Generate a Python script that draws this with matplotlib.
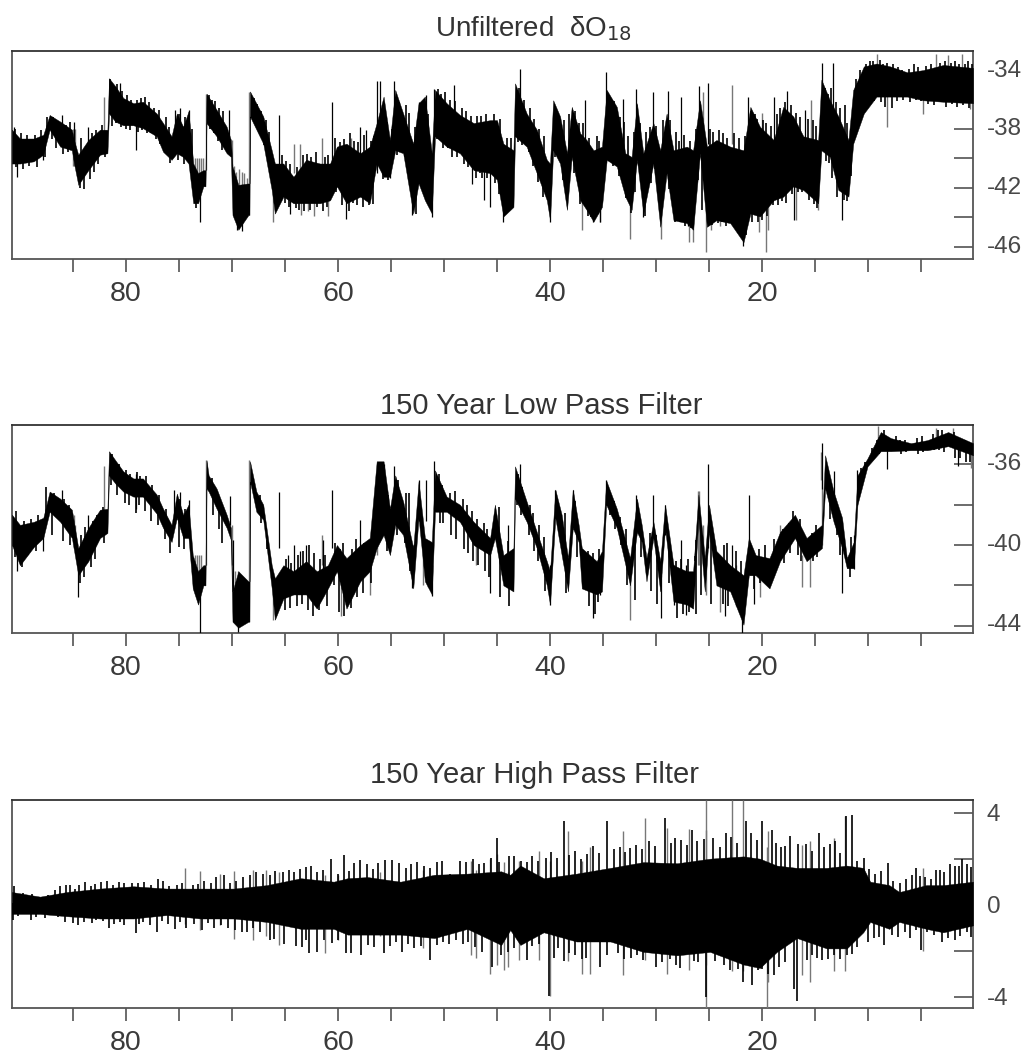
import matplotlib
matplotlib.use("Agg")
import matplotlib.pyplot as plt
from matplotlib.transforms import ScaledTranslation
import numpy as np

plt.rcParams["font.family"] = ["Liberation Sans", "DejaVu Sans"]

# age in kyr BP, upper and lower edge of the dense trace
age1 = [90.75, 90.0, 88.7, 87.8, 87.2, 86.2, 85.1, 84.9, 84.5, 83.55, 82.45, 81.75, 81.6, 81.0, 80.25, 79.3, 78.4, 77.1, 76.5, 75.7, 75.2, 74.6, 74.1, 73.65, 73.2, 72.7, 72.5, 72.4, 71.45, 70.5, 70.1, 69.95, 69.4, 68.45, 68.35, 68.3, 67.05, 66.25, 65.95, 65.15, 64.2, 63.0, 61.7, 60.75, 60.1, 59.2, 57.9, 57.0, 56.35, 55.7, 55.1, 54.6, 53.85, 52.9, 52.4, 51.8, 51.15, 50.85, 49.75, 48.5, 47.2, 45.65, 45.0, 44.4, 43.45, 43.3, 42.2, 41.25, 40.3, 40.0, 39.7, 39.05, 38.4, 37.95, 37.15, 36.55, 35.9, 35.1, 34.65, 33.7, 32.9, 32.3, 31.8, 31.2, 30.25, 29.6, 29.0, 28.35, 27.1, 26.5, 25.85, 25.2, 24.3, 23.0, 21.75, 21.1, 20.2, 18.9, 18.0, 17.05, 16.1, 14.7, 14.4, 13.6, 12.8, 11.85, 11.4, 10.4, 9.2, 7.9, 6.3, 4.8, 2.9, 0.1]
hi1 = [-38.05, -38.65, -38.65, -38.4, -37.05, -37.5, -38.05, -38.75, -39.75, -38.75, -38.05, -38.05, -34.55, -35.1, -35.9, -36.25, -36.15, -36.95, -37.6, -38.5, -36.95, -37.85, -36.8, -40.35, -41.0, -40.8, -40.8, -35.6, -36.7, -37.85, -38.75, -40.55, -41.8, -41.7, -41.7, -35.45, -37.15, -39.45, -40.35, -40.35, -41.25, -40.1, -40.35, -40.35, -39.2, -39.0, -39.65, -39.2, -37.6, -35.8, -38.75, -35.35, -36.95, -39.0, -36.25, -35.8, -39.65, -35.35, -36.25, -37.05, -37.6, -37.4, -37.4, -39.0, -39.45, -34.9, -36.95, -38.05, -40.1, -40.35, -36.05, -37.15, -39.65, -36.5, -38.3, -38.75, -39.45, -39.2, -35.35, -36.5, -39.65, -39.9, -36.25, -39.65, -37.6, -39.45, -36.95, -39.45, -39.2, -39.45, -36.05, -39.2, -38.75, -39.2, -39.45, -36.5, -37.85, -38.75, -36.5, -37.15, -38.5, -38.75, -34.65, -36.05, -37.15, -38.75, -35.35, -33.75, -33.55, -33.75, -34.15, -34.0, -33.65, -33.85]
lo1 = [-40.35, -40.35, -40.2, -39.75, -38.05, -39.2, -39.45, -40.35, -41.8, -40.8, -39.75, -39.65, -36.95, -37.5, -37.75, -37.75, -37.95, -38.5, -39.55, -40.1, -39.65, -39.9, -40.35, -43.05, -43.05, -41.9, -41.9, -37.6, -38.5, -39.65, -39.9, -43.85, -44.85, -43.85, -43.85, -37.15, -39.0, -42.15, -43.75, -42.6, -43.05, -43.05, -43.05, -42.85, -41.9, -43.05, -42.6, -43.05, -40.35, -41.25, -41.25, -39.45, -39.65, -43.75, -41.7, -42.85, -43.75, -38.5, -39.2, -39.65, -40.8, -41.0, -41.45, -43.95, -43.3, -38.5, -39.2, -41.0, -42.85, -44.2, -39.45, -40.35, -43.5, -39.9, -42.85, -43.5, -44.3, -43.3, -40.1, -40.55, -42.6, -43.5, -40.1, -43.75, -40.35, -44.65, -41.0, -44.2, -44.4, -44.85, -39.65, -44.65, -44.2, -44.4, -45.7, -43.75, -43.95, -42.85, -42.6, -41.9, -42.15, -43.05, -39.45, -39.9, -42.15, -42.6, -39.0, -36.95, -35.8, -35.8, -35.8, -36.05, -36.15, -36.25]

# isolated excursions, black and grey
spike1_age = [90.25, 90.6, 87.8, 86.0, 84.9, 83.55, 80.6, 79.05, 75.4, 74.9, 74.1, 73.0, 70.25, 69.1, 69.55, 65.6, 64.5, 60.55, 59.25, 57.9, 57.4, 56.35, 56.0, 55.1, 54.7, 53.05, 52.4, 51.7, 51.15, 50.95, 49.1, 47.4, 46.2, 45.7, 44.4, 42.85, 40.0, 36.7, 35.9, 35.25, 34.7, 33.1, 31.9, 31.2, 30.3, 28.9, 27.6, 27.0, 25.9, 25.05, 21.8, 21.3, 18.9, 17.6, 17.0, 15.95, 14.3, 12.5, 13.3]
spike1_hi = [-39.5, -37.85, -39.0, -37.05, -37.5, -37.85, -34.9, -37.0, -36.7, -36.6, -36.7, -41.5, -36.7, -42.0, -42.0, -37.05, -41.5, -36.15, -40.0, -37.85, -38.1, -34.75, -34.75, -39.5, -34.75, -40.0, -36.15, -35.7, -40.0, -35.25, -35.0, -38.5, -39.0, -39.0, -40.0, -33.9, -41.0, -36.05, -41.0, -41.0, -34.1, -35.95, -35.25, -41.0, -35.5, -35.4, -35.8, -41.0, -35.1, -34.9, -41.0, -35.85, -35.85, -35.4, -40.5, -36.7, -33.5, -40.0, -33.5]
spike1_lo = [-41.25, -39.5, -40.1, -38.5, -39.5, -39.5, -36.5, -39.45, -38.0, -38.0, -38.5, -44.3, -38.5, -44.95, -44.85, -40.6, -43.75, -40.3, -44.1, -40.0, -40.2, -41.0, -40.0, -41.35, -39.0, -43.85, -41.7, -42.85, -44.0, -38.5, -38.0, -41.75, -42.8, -43.3, -44.3, -38.0, -44.3, -39.5, -44.3, -44.3, -38.0, -39.0, -38.5, -44.0, -39.0, -39.0, -39.5, -44.6, -39.5, -39.0, -45.95, -39.0, -39.0, -39.0, -44.2, -39.0, -37.5, -44.2, -37.5]
gray1_age = [85.0, 84.9, 84.8, 82.1, 73.5, 73.3, 73.1, 72.9, 72.7, 72.45, 70.0, 69.85, 69.6, 69.35, 69.1, 68.85, 68.6, 68.4, 66.15, 64.15, 63.6, 63.45, 62.8, 62.3, 61.55, 60.9, 58.8, 37.0, 35.3, 32.5, 29.55, 26.9, 26.5, 25.6, 25.3, 24.8, 24.0, 22.85, 20.3, 20.05, 19.6, 19.4, 16.8, 15.4, 14.75, 9.2, 8.25, 4.8, 3.6, 2.5, 1.15, 0.4]
gray1_hi = [-38.0, -38.0, -38.0, -35.85, -40.0, -40.0, -40.0, -40.0, -40.0, -35.6, -38.75, -40.5, -40.9, -40.7, -40.9, -41.0, -41.3, -35.5, -42.0, -39.0, -39.0, -41.0, -41.0, -41.0, -38.6, -41.0, -38.6, -40.0, -41.0, -41.0, -41.0, -41.0, -41.0, -35.5, -40.0, -41.0, -41.0, -35.0, -41.0, -36.9, -41.0, -41.0, -41.0, -36.0, -41.0, -32.9, -35.5, -35.5, -32.9, -33.0, -32.9, -35.5]
gray1_lo = [-40.5, -40.5, -40.5, -38.5, -41.5, -41.5, -41.5, -41.5, -41.5, -40.8, -40.5, -41.5, -42.0, -42.0, -42.0, -42.0, -42.0, -41.7, -44.3, -41.0, -41.0, -43.85, -43.6, -43.9, -41.0, -43.9, -41.0, -44.85, -44.3, -45.5, -45.45, -45.7, -45.7, -39.0, -46.35, -44.9, -44.6, -39.0, -45.0, -39.0, -46.35, -44.85, -44.2, -39.0, -43.5, -35.5, -37.85, -37.0, -35.5, -35.5, -35.5, -36.65]

# short excursions along the edges of the trace
up1_age = [90.5, 89.9, 89.3, 88.6, 88.0, 87.45, 86.9, 86.5, 85.7, 85.3, 84.2, 83.2, 82.8, 82.3, 81.5, 81.2, 80.8, 80.4, 79.9, 79.5, 79.0, 78.6, 78.2, 77.8, 77.4, 76.9, 76.2, 75.9, 75.0, 74.4, 73.8, 72.2, 71.9, 71.6, 71.2, 70.8, 67.9, 67.6, 67.3, 66.8, 66.5, 65.3, 64.9, 64.5, 63.9, 63.3, 62.9, 62.5, 62.1, 61.2, 60.9, 60.3, 59.8, 59.4, 58.9, 58.5, 58.1, 57.5, 56.9, 56.6, 55.4, 54.9, 54.2, 53.6, 53.3, 52.7, 51.5, 50.6, 50.3, 49.9, 49.4, 49.0, 48.3, 47.9, 47.5, 46.9, 46.5, 46.0, 45.3, 44.7, 44.1, 43.7, 42.9, 42.5, 41.9, 41.5, 41.0, 40.6, 39.4, 38.7, 38.2, 37.6, 37.3, 36.9, 36.3, 35.6, 35.4, 34.3, 34.0, 33.4, 33.0, 32.6, 32.1, 31.5, 30.9, 30.6, 30.0, 29.3, 28.7, 28.1, 27.8, 27.4, 26.8, 26.2, 25.6, 24.9, 24.6, 24.1, 23.7, 23.3, 22.6, 22.2, 21.6, 21.0, 20.7, 20.5, 19.9, 19.6, 19.2, 18.6, 18.3, 17.8, 17.3, 16.8, 16.4, 15.7, 15.2, 14.9, 14.1, 13.8, 13.5, 13.0, 12.6, 12.2, 11.95, 11.1, 10.8, 10.2, 9.8, 9.5, 8.9, 8.6, 8.2, 7.6, 7.2, 6.8, 6.1, 5.7, 5.3, 4.5, 4.1, 3.2, 2.7, 2.2, 1.8, 1.4, 0.9, 0.6, 0.2]
up1_tip = [-38.0, -38.3, -38.4, -38.4, -38.1, -37.2, -37.2, -37.5, -37.7, -37.5, -38.6, -38.3, -38.1, -37.7, -34.6, -35.0, -34.95, -35.4, -35.7, -36.0, -36.0, -35.9, -35.8, -36.2, -36.6, -36.7, -37.2, -37.9, -37.0, -37.2, -38.0, -35.7, -36.0, -36.1, -36.6, -36.8, -35.9, -36.3, -36.8, -37.4, -38.2, -39.8, -40.2, -40.4, -40.6, -39.8, -39.7, -39.9, -39.6, -39.9, -39.8, -38.6, -38.9, -38.7, -38.3, -38.8, -38.9, -38.4, -38.8, -38.5, -37.5, -38.0, -36.2, -36.4, -36.9, -37.9, -37.0, -35.3, -35.6, -35.5, -36.0, -36.1, -36.6, -36.8, -37.1, -37.1, -37.1, -37.0, -37.0, -37.3, -38.6, -38.6, -35.2, -36.0, -36.6, -37.3, -38.0, -38.5, -36.8, -37.4, -37.0, -36.8, -37.6, -37.6, -38.6, -38.5, -38.8, -35.9, -36.1, -37.2, -37.5, -38.5, -38.2, -37.6, -38.2, -37.9, -37.8, -37.4, -37.4, -38.2, -38.8, -38.4, -38.8, -38.0, -37.6, -38.0, -38.2, -38.1, -38.3, -38.6, -38.3, -38.6, -38.5, -36.8, -37.0, -37.3, -37.4, -37.6, -37.8, -37.0, -36.6, -36.2, -36.4, -36.9, -37.2, -37.3, -37.4, -37.8, -35.2, -35.6, -35.2, -36.2, -36.6, -36.4, -37.6, -34.6, -34.0, -33.6, -33.4, -33.4, -33.3, -33.6, -33.5, -33.6, -33.8, -34.0, -33.9, -33.6, -33.8, -33.7, -33.6, -33.5, -33.4, -33.5, -33.4, -33.6, -33.6, -33.4, -33.6]
dn1_age = [90.4, 89.7, 89.1, 88.4, 87.6, 87.0, 86.6, 85.9, 85.5, 84.3, 84.0, 83.4, 83.0, 82.6, 82.0, 81.3, 80.9, 80.5, 80.0, 79.6, 78.9, 78.5, 78.0, 77.6, 77.2, 76.8, 76.3, 75.8, 75.05, 74.5, 73.9, 73.4, 72.1, 71.7, 71.3, 70.9, 67.8, 67.4, 67.0, 66.6, 65.4, 65.0, 64.6, 64.0, 63.7, 63.2, 62.6, 62.0, 61.4, 61.0, 60.2, 59.6, 59.0, 58.6, 58.2, 57.6, 57.1, 56.7, 55.8, 55.3, 54.4, 53.7, 53.2, 52.6, 51.4, 50.7, 50.1, 49.6, 49.2, 48.8, 48.1, 47.7, 47.0, 46.6, 46.4, 45.9, 45.2, 44.8, 44.2, 43.8, 43.0, 42.6, 42.0, 41.6, 41.1, 40.7, 39.5, 38.8, 38.1, 37.7, 37.2, 36.4, 36.1, 35.5, 34.4, 34.1, 33.5, 32.8, 32.4, 32.0, 31.4, 31.0, 30.5, 30.1, 29.4, 28.8, 28.2, 27.7, 27.3, 26.7, 26.0, 25.7, 24.7, 24.2, 23.8, 23.4, 22.7, 22.3, 21.5, 20.9, 20.4, 20.0, 19.5, 19.0, 18.5, 18.1, 17.7, 17.2, 16.6, 16.2, 15.6, 15.1, 14.8, 14.0, 13.7, 13.4, 12.9, 12.3, 12.0, 11.6, 11.0, 10.6, 10.0, 9.4, 8.8, 8.4, 7.7, 7.3, 6.7, 6.0, 5.5, 5.0, 4.3, 3.8, 3.3, 2.6, 2.1, 1.6, 1.0, 0.5]
dn1_tip = [-40.6, -40.7, -40.5, -40.6, -39.9, -38.7, -39.3, -39.7, -39.6, -42.0, -42.1, -41.4, -40.9, -40.4, -39.9, -37.8, -37.6, -37.9, -38.0, -38.1, -38.2, -38.1, -38.3, -38.3, -38.7, -39.0, -39.6, -40.3, -40.1, -40.4, -41.0, -43.4, -38.0, -38.3, -38.8, -39.4, -37.6, -38.2, -39.1, -40.0, -42.9, -43.0, -43.3, -43.4, -43.5, -43.6, -43.5, -43.3, -43.6, -43.3, -42.3, -43.2, -43.6, -43.0, -43.2, -43.3, -43.2, -43.1, -41.4, -41.5, -39.8, -39.9, -41.3, -43.8, -41.6, -38.7, -39.3, -39.3, -39.9, -39.9, -40.4, -40.6, -41.3, -41.0, -41.3, -41.3, -41.7, -42.4, -43.0, -43.5, -38.9, -39.1, -39.6, -40.5, -41.6, -42.6, -39.9, -41.5, -40.7, -41.0, -43.1, -43.9, -44.0, -43.8, -40.2, -40.5, -41.2, -42.7, -43.7, -42.3, -41.5, -43.9, -41.7, -40.7, -42.2, -42.1, -44.3, -44.3, -44.6, -44.7, -41.5, -43.5, -44.5, -44.4, -44.3, -44.6, -44.5, -45.1, -45.2, -44.3, -44.3, -44.2, -43.9, -43.2, -43.2, -42.9, -43.0, -42.4, -42.3, -42.3, -42.8, -43.1, -43.4, -40.2, -40.3, -41.3, -42.6, -42.8, -42.9, -41.2, -37.8, -37.1, -36.2, -36.1, -36.2, -36.5, -36.6, -36.1, -36.0, -36.2, -36.0, -36.1, -36.3, -36.4, -36.1, -36.5, -36.3, -36.5, -36.4, -36.6]

age2 = [90.75, 90.0, 88.7, 87.8, 87.2, 86.2, 85.1, 84.5, 83.55, 82.45, 81.75, 81.6, 81.0, 80.25, 79.3, 78.4, 77.1, 76.5, 75.7, 75.2, 74.6, 74.1, 73.7, 73.2, 72.7, 72.5, 72.4, 72.2, 71.45, 70.5, 70.1, 69.95, 69.4, 68.45, 68.35, 68.3, 67.7, 67.05, 66.25, 65.95, 65.15, 64.2, 63.0, 62.0, 60.95, 60.1, 59.2, 57.9, 57.0, 56.35, 55.7, 55.1, 54.6, 53.85, 52.9, 52.4, 51.8, 51.15, 50.85, 49.75, 48.5, 47.2, 45.65, 45.2, 44.4, 43.45, 43.3, 42.2, 41.25, 40.3, 40.0, 39.5, 38.9, 38.3, 37.85, 37.3, 37.0, 35.6, 35.1, 34.7, 33.7, 33.1, 32.45, 31.8, 31.35, 30.9, 30.25, 29.6, 29.15, 28.35, 27.1, 26.5, 26.0, 25.4, 25.0, 24.3, 23.0, 21.75, 21.25, 20.6, 19.3, 18.3, 16.9, 15.8, 14.35, 14.05, 13.25, 12.45, 12.0, 11.35, 11.0, 10.05, 8.8, 7.85, 5.95, 4.4, 2.45, 0.1]
hi2 = [-38.5, -39.0, -38.85, -38.65, -37.35, -37.7, -38.25, -40.15, -39.15, -38.25, -38.2, -35.35, -35.8, -36.35, -36.7, -36.7, -37.5, -38.2, -39.0, -37.45, -38.5, -38.0, -40.5, -41.3, -41.0, -41.0, -35.8, -36.55, -37.2, -38.5, -39.15, -42.3, -41.3, -41.8, -41.8, -35.85, -37.35, -38.0, -41.0, -41.65, -41.0, -41.3, -40.8, -41.3, -41.0, -40.0, -40.65, -40.0, -39.65, -35.85, -35.85, -38.2, -36.55, -37.85, -40.15, -36.85, -39.65, -39.85, -36.3, -37.6, -38.0, -38.85, -39.65, -38.0, -40.5, -40.15, -36.1, -37.85, -39.35, -40.8, -41.3, -37.25, -38.5, -40.65, -37.25, -39.0, -40.15, -40.8, -40.3, -36.8, -38.2, -39.35, -40.65, -37.7, -39.0, -40.65, -38.85, -40.8, -38.0, -41.0, -41.3, -41.3, -37.5, -40.65, -38.0, -40.3, -41.0, -41.5, -39.65, -40.5, -40.65, -39.35, -38.5, -39.65, -39.0, -35.55, -37.35, -38.65, -40.65, -39.85, -36.55, -35.7, -34.4, -34.7, -34.95, -34.8, -34.4, -34.95]
lo2 = [-40.0, -41.0, -40.1, -39.65, -38.35, -38.85, -39.65, -41.5, -40.8, -39.65, -39.4, -36.55, -36.95, -37.35, -37.6, -37.6, -38.45, -39.15, -39.85, -38.65, -39.65, -39.65, -42.15, -42.95, -42.0, -42.0, -37.2, -37.35, -38.2, -39.15, -39.75, -43.8, -44.1, -43.8, -43.8, -36.85, -38.35, -38.75, -42.15, -43.7, -42.65, -42.45, -42.45, -43.15, -42.15, -41.3, -43.15, -41.8, -41.3, -40.15, -39.5, -40.5, -39.0, -39.5, -42.15, -38.65, -41.8, -42.45, -38.35, -38.35, -38.85, -40.0, -40.5, -39.65, -42.0, -42.3, -37.7, -38.85, -40.15, -42.0, -42.95, -38.65, -40.5, -42.3, -39.15, -39.85, -42.15, -42.45, -42.3, -38.0, -39.15, -40.5, -42.0, -39.35, -39.85, -41.8, -39.65, -42.3, -39.15, -42.8, -42.95, -43.15, -38.65, -42.3, -39.35, -42.0, -42.3, -43.95, -41.5, -41.5, -42.15, -40.8, -39.65, -40.8, -40.15, -37.2, -38.85, -40.15, -41.15, -41.15, -38.0, -36.1, -35.35, -35.35, -35.3, -35.3, -35.1, -35.55]

spike2_age = [90.25, 87.8, 86.0, 84.5, 83.55, 79.05, 75.5, 74.9, 74.1, 73.0, 70.2, 69.95, 69.4, 65.6, 64.7, 64.15, 63.6, 63.0, 61.4, 60.55, 57.9, 55.65, 54.7, 53.05, 52.4, 51.7, 51.15, 50.95, 45.7, 44.0, 42.85, 40.0, 39.5, 37.85, 36.7, 35.9, 35.25, 34.7, 31.9, 30.3, 29.55, 29.15, 28.35, 27.6, 27.2, 25.05, 23.5, 22.85, 21.85, 21.25, 20.8, 14.3, 13.25, 12.5, 11.35, 11.0, 8.2, 1.55]
spike2_hi = [-39.5, -39.0, -37.25, -41.0, -38.5, -36.5, -37.25, -37.35, -37.75, -42.0, -37.55, -39.75, -42.0, -37.35, -40.5, -40.0, -40.3, -40.0, -39.75, -37.25, -38.75, -36.0, -36.1, -40.0, -36.8, -36.8, -41.0, -35.85, -40.0, -39.0, -36.0, -41.0, -37.25, -37.25, -41.0, -41.0, -41.0, -36.8, -37.5, -37.5, -41.5, -38.0, -41.0, -39.75, -41.0, -36.0, -41.0, -40.0, -42.0, -37.5, -41.0, -34.95, -36.35, -40.0, -39.5, -36.3, -35.0, -35.0]
spike2_lo = [-41.3, -40.3, -38.5, -42.6, -40.0, -38.2, -38.8, -38.8, -39.65, -44.36, -39.0, -42.3, -44.3, -40.15, -42.5, -42.0, -42.0, -42.0, -42.5, -40.15, -41.0, -39.5, -38.5, -42.15, -38.8, -38.8, -42.55, -38.2, -42.4, -41.0, -38.0, -42.95, -38.65, -38.65, -42.15, -43.6, -42.5, -38.0, -39.5, -39.5, -43.6, -39.5, -42.95, -41.5, -43.45, -40.15, -43.5, -41.5, -44.36, -41.0, -42.9, -37.2, -38.5, -42.4, -41.2, -38.0, -36.25, -36.1]
gray2_age = [84.9, 84.8, 82.1, 73.5, 73.3, 73.1, 72.9, 72.45, 70.0, 69.7, 69.4, 69.1, 68.8, 68.4, 66.15, 61.55, 59.7, 57.0, 56.35, 56.0, 55.3, 52.9, 52.0, 51.5, 47.0, 32.5, 26.05, 25.9, 25.6, 25.3, 24.0, 22.5, 20.2, 18.3, 16.2, 15.5, 14.4, 14.35, 9.1, 3.6, 2.0, 0.3]
gray2_hi = [-38.5, -39.0, -36.1, -40.5, -40.5, -40.5, -40.5, -35.8, -39.0, -41.3, -41.3, -41.6, -41.8, -35.8, -42.0, -39.5, -41.0, -41.0, -38.5, -36.0, -38.5, -40.0, -39.5, -41.0, -39.5, -41.0, -37.3, -37.3, -39.0, -40.5, -41.0, -41.0, -41.0, -39.0, -40.5, -40.5, -35.4, -36.8, -34.1, -34.2, -34.2, -35.3]
gray2_lo = [-40.15, -40.15, -39.0, -41.5, -41.5, -41.5, -41.5, -41.0, -41.0, -42.0, -42.0, -42.0, -42.0, -41.8, -43.7, -41.0, -43.5, -42.5, -40.5, -39.0, -40.0, -41.5, -42.0, -42.1, -41.0, -43.7, -41.0, -41.0, -40.5, -42.5, -43.3, -43.0, -42.6, -40.5, -42.1, -42.1, -36.8, -40.0, -35.0, -35.0, -35.0, -36.2]

up2_age = [90.4, 89.6, 89.0, 88.3, 87.5, 86.8, 85.8, 85.4, 84.2, 83.9, 83.1, 82.7, 82.2, 81.3, 80.7, 80.0, 79.6, 79.0, 78.7, 78.1, 77.5, 76.9, 76.2, 75.9, 74.9, 74.4, 71.9, 71.1, 70.8, 67.4, 66.6, 64.9, 64.4, 63.8, 63.3, 62.7, 62.3, 61.7, 61.2, 60.3, 59.8, 59.5, 58.7, 58.3, 57.5, 56.8, 55.3, 54.3, 53.6, 53.3, 50.5, 50.2, 49.4, 49.0, 48.2, 47.8, 47.4, 46.9, 46.2, 45.9, 44.8, 44.0, 43.0, 42.6, 41.9, 41.6, 41.0, 40.6, 39.2, 38.6, 37.6, 36.4, 35.9, 35.4, 34.4, 34.0, 33.4, 32.8, 32.1, 31.5, 30.6, 30.0, 28.9, 28.1, 27.6, 27.0, 26.3, 25.7, 24.7, 23.6, 23.3, 22.5, 22.0, 20.9, 20.3, 19.7, 18.9, 18.0, 17.5, 17.1, 16.4, 15.3, 14.9, 13.7, 13.0, 12.7, 11.6, 10.7, 10.3, 9.6, 9.2, 8.5, 7.4, 7.0, 6.5, 5.4, 4.9, 3.9, 3.4, 3.0, 1.9, 1.4, 0.9, 0.5]
up2_tip = [-38.3, -38.8, -38.7, -38.5, -37.1, -37.4, -37.7, -38.0, -39.5, -39.1, -38.8, -38.5, -38.1, -35.5, -36.0, -36.3, -36.5, -36.4, -36.6, -36.6, -37.0, -37.5, -38.2, -38.9, -37.7, -38.2, -36.7, -37.7, -38.2, -37.5, -40.0, -40.7, -40.9, -40.5, -40.3, -40.0, -40.4, -40.7, -40.5, -39.9, -40.2, -39.9, -40.2, -39.7, -39.9, -39.6, -37.5, -36.8, -37.4, -37.4, -36.5, -37.0, -37.4, -37.3, -37.7, -38.0, -38.3, -38.7, -38.9, -39.2, -38.1, -39.8, -36.5, -37.1, -38.0, -38.4, -39.0, -39.6, -37.9, -38.4, -37.8, -40.3, -40.4, -40.2, -37.4, -37.8, -38.6, -39.2, -40.4, -38.8, -39.4, -39.5, -39.3, -40.8, -40.7, -40.7, -40.8, -39.9, -39.7, -40.0, -39.9, -40.3, -40.8, -40.3, -40.2, -40.0, -39.7, -39.2, -38.9, -38.3, -38.7, -39.4, -39.0, -37.4, -38.3, -38.7, -39.6, -36.2, -35.9, -35.2, -34.8, -34.3, -34.6, -34.8, -34.8, -34.7, -34.6, -34.5, -34.3, -34.3, -34.4, -34.7, -34.8, -35.0]
dn2_age = [90.5, 89.8, 89.2, 88.5, 87.6, 87.0, 85.9, 85.3, 84.3, 84.0, 83.3, 82.9, 82.1, 81.4, 80.8, 80.1, 79.7, 79.1, 78.8, 78.2, 77.6, 77.0, 76.3, 75.8, 75.0, 74.5, 71.8, 71.2, 70.9, 67.3, 66.7, 65.0, 64.5, 63.9, 63.4, 62.8, 62.4, 61.8, 61.0, 60.4, 59.9, 59.4, 58.8, 58.2, 57.6, 56.9, 55.4, 54.4, 53.7, 53.2, 50.4, 50.1, 49.3, 48.9, 48.1, 47.7, 47.3, 46.8, 46.1, 45.8, 44.7, 43.9, 43.1, 42.7, 42.0, 41.5, 41.1, 40.5, 39.1, 38.5, 37.5, 36.3, 35.8, 35.5, 34.3, 33.9, 33.3, 32.7, 32.0, 31.4, 30.5, 29.9, 28.8, 28.0, 27.5, 26.9, 26.2, 25.8, 24.8, 23.7, 23.2, 22.4, 21.9, 20.8, 20.2, 19.6, 18.8, 17.9, 17.4, 16.6, 16.3, 15.2, 14.8, 13.6, 12.9, 12.6, 11.7, 10.8, 10.4, 9.7, 9.0, 8.4, 7.3, 6.9, 6.4, 5.3, 4.8, 3.8, 3.3, 2.8, 1.8, 1.3, 0.8, 0.4]
dn2_tip = [-40.6, -41.1, -40.5, -40.3, -38.7, -39.5, -39.8, -40.0, -41.9, -41.6, -41.1, -40.7, -39.9, -37.0, -37.5, -37.9, -38.0, -38.4, -38.0, -38.3, -38.8, -39.0, -39.7, -40.4, -40.1, -40.2, -38.5, -39.2, -39.9, -38.9, -40.2, -43.2, -43.1, -43.0, -42.9, -43.2, -43.5, -43.2, -43.0, -42.0, -43.3, -43.5, -43.1, -42.6, -42.4, -41.9, -40.3, -39.5, -39.9, -41.3, -38.9, -38.9, -39.5, -39.7, -40.2, -40.4, -40.8, -41.0, -41.3, -41.6, -42.6, -43.0, -38.0, -38.5, -39.5, -40.3, -40.8, -42.3, -39.6, -42.4, -40.6, -43.0, -43.4, -42.8, -38.5, -39.2, -40.0, -42.0, -42.7, -40.6, -42.3, -42.9, -41.9, -43.6, -43.4, -43.3, -43.4, -42.5, -42.9, -42.9, -43.0, -43.0, -43.3, -42.2, -41.9, -41.9, -41.4, -40.9, -40.4, -40.5, -40.8, -40.8, -40.6, -38.7, -39.5, -40.5, -41.6, -37.2, -36.5, -35.6, -35.5, -35.3, -35.3, -35.5, -35.4, -35.5, -35.4, -35.3, -35.3, -35.4, -35.7, -35.7, -35.9, -35.9]

age3 = [90.75, 88.1, 85.6, 82.45, 79.3, 76.15, 73.0, 69.8, 66.7, 63.5, 60.4, 59.1, 57.2, 54.1, 50.9, 47.8, 44.6, 43.75, 42.8, 40.6, 37.5, 34.3, 31.2, 28.0, 24.9, 21.75, 20.2, 18.6, 16.7, 13.9, 12.0, 10.45, 9.8, 8.0, 7.05, 4.5, 2.9, 0.1]
top3 = [0.55, 0.35, 0.55, 0.7, 0.8, 0.7, 0.7, 0.7, 0.85, 1.15, 1.0, 1.15, 1.2, 1.0, 1.3, 1.35, 1.45, 1.3, 1.7, 1.15, 1.35, 1.6, 1.85, 1.8, 2.0, 2.1, 2.0, 1.7, 1.6, 1.6, 1.7, 1.6, 1.0, 0.85, 0.55, 0.85, 0.85, 1.0]
bot3 = [-0.4, -0.4, -0.5, -0.6, -0.6, -0.45, -0.6, -0.6, -0.75, -1.05, -1.05, -1.3, -1.3, -1.3, -1.45, -1.05, -1.75, -1.1, -1.75, -1.2, -1.6, -1.6, -2.05, -2.2, -2.05, -2.6, -2.75, -2.05, -1.45, -1.9, -1.9, -1.2, -0.75, -1.05, -0.75, -1.05, -1.2, -0.9]

up3_age = [90.55, 85.25, 83.85, 81.8, 79.45, 77.0, 70.75, 64.15, 63.05, 61.95, 60.65, 59.4, 57.95, 54.9, 50.2, 49.4, 48.5, 45.0, 44.8, 43.9, 38.7, 34.65, 34.0, 32.5, 29.2, 27.6, 26.6, 24.0, 22.9, 21.5, 20.0, 19.1, 17.4, 16.6, 15.9, 14.6, 13.1, 12.1, 11.55, 10.35, 8.1, 5.5, 3.55, 2.3, 1.1, 0.3, 89.7, 88.9, 87.4, 86.7, 86.2, 85.7, 84.8, 84.4, 83.3, 82.9, 82.4, 81.2, 80.7, 80.2, 78.9, 78.3, 77.6, 76.5, 75.9, 75.2, 74.7, 73.7, 73.2, 72.6, 72.0, 71.5, 70.2, 69.6, 69.0, 68.3, 67.7, 67.1, 66.4, 65.9, 65.2, 64.6, 63.6, 62.5, 61.4, 60.0, 59.0, 58.5, 57.3, 56.7, 56.2, 55.6, 54.2, 53.6, 53.1, 52.5, 51.9, 51.3, 50.7, 47.9, 47.3, 46.7, 46.2, 45.6, 43.4, 42.7, 42.2, 41.7, 41.1, 40.4, 39.9, 39.3, 38.2, 37.6, 37.1, 36.5, 35.9, 35.4, 33.4, 32.9, 31.9, 31.3, 30.7, 30.1, 28.6, 28.2, 27.1, 26.1, 25.5, 24.6, 23.4, 22.4, 21.0, 20.5, 18.7, 18.2, 17.8, 15.3, 14.2, 13.6, 12.6, 11.0, 10.7, 9.9, 9.3, 8.8, 7.6, 7.0, 6.4, 5.9, 5.1, 4.6, 4.1, 3.2, 2.8, 1.8, 1.4, 0.7]
up3_top = [0.8, 0.85, 1.0, 1.05, 0.95, 1.1, 1.3, 1.4, 1.65, 1.4, 2.0, 2.15, 1.95, 1.95, 1.9, 1.35, 1.9, 2.9, 1.85, 2.1, 3.65, 3.65, 2.4, 2.45, 3.75, 2.8, 3.25, 2.5, 2.95, 3.65, 3.65, 3.25, 3.0, 2.65, 2.65, 3.1, 2.75, 3.85, 3.9, 2.05, 1.8, 1.6, 1.5, 1.75, 2.0, 1.65, 0.5, 0.45, 0.4, 0.65, 0.8, 0.85, 0.7, 0.85, 0.8, 0.9, 1.0, 0.85, 1.0, 0.95, 0.95, 1.0, 0.85, 1.05, 0.8, 0.85, 0.95, 0.85, 0.9, 1.05, 0.95, 1.2, 0.95, 1.05, 1.2, 1.3, 1.4, 1.35, 1.3, 1.45, 1.4, 1.5, 1.55, 1.7, 1.5, 1.35, 1.45, 1.8, 1.75, 1.55, 1.8, 1.95, 1.8, 1.6, 1.75, 1.85, 1.7, 1.6, 1.85, 1.85, 2.0, 1.75, 1.8, 2.05, 2.1, 1.9, 1.85, 2.1, 1.9, 2.05, 2.3, 2.05, 2.15, 2.35, 2.0, 2.2, 2.55, 2.25, 2.5, 2.3, 2.6, 2.4, 2.75, 2.55, 2.7, 2.9, 2.6, 2.75, 2.85, 2.9, 3.1, 2.7, 3.1, 2.8, 2.7, 2.5, 2.55, 2.35, 2.5, 2.65, 2.25, 1.9, 1.5, 1.55, 1.35, 1.45, 1.05, 0.95, 1.1, 1.3, 1.25, 1.2, 1.1, 1.5, 1.4, 1.7, 1.7, 1.75]
lo3_age = [90.7, 89.0, 85.75, 81.6, 79.05, 77.1, 75.4, 72.8, 69.1, 66.4, 65.1, 64.0, 63.4, 62.7, 61.95, 61.3, 59.25, 58.8, 57.8, 55.7, 54.0, 51.3, 45.45, 42.2, 40.05, 38.7, 37.0, 35.3, 33.0, 30.0, 27.7, 25.3, 23.0, 21.75, 20.9, 18.9, 17.0, 16.7, 10.0, 8.5, 5.0, 3.0, 0.3, 90.2, 88.5, 87.6, 87.0, 86.4, 85.0, 84.5, 84.0, 83.2, 82.8, 82.2, 81.1, 80.6, 80.2, 78.8, 78.4, 77.7, 76.6, 76.0, 74.9, 74.3, 73.6, 72.3, 71.7, 71.0, 70.4, 69.7, 68.6, 68.0, 67.4, 66.0, 63.0, 60.6, 60.0, 57.2, 56.6, 55.1, 54.5, 53.4, 52.8, 52.2, 50.7, 50.1, 49.5, 48.9, 48.2, 47.7, 47.1, 46.4, 44.6, 44.0, 43.4, 41.7, 41.0, 39.6, 39.2, 38.2, 37.6, 36.6, 34.6, 33.6, 32.4, 31.8, 31.2, 29.4, 28.7, 28.1, 26.4, 26.0, 24.4, 23.6, 22.3, 20.4, 20.0, 19.4, 18.4, 17.8, 15.8, 15.3, 14.8, 14.3, 13.8, 13.2, 12.6, 12.0, 11.5, 11.0, 9.4, 9.0, 7.7, 7.2, 6.5, 6.0, 5.5, 4.4, 3.8, 2.5, 1.8, 1.3, 0.7]
lo3_bot = [-0.65, -0.65, -0.75, -1.0, -1.25, -1.2, -1.05, -1.1, -1.2, -1.55, -1.7, -1.8, -1.85, -2.1, -2.05, -1.55, -2.1, -2.1, -2.2, -2.1, -2.05, -2.4, -2.7, -2.4, -3.95, -2.45, -2.35, -2.7, -2.35, -2.7, -2.75, -4.0, -2.85, -3.35, -3.5, -3.05, -3.65, -4.2, -1.6, -1.75, -1.95, -1.6, -1.4, -0.5, -0.55, -0.6, -0.45, -0.55, -0.8, -0.9, -0.75, -0.8, -0.65, -0.7, -0.85, -0.75, -0.9, -0.85, -0.75, -0.9, -0.7, -0.85, -0.75, -1.0, -0.85, -0.8, -1.0, -0.9, -1.0, -1.1, -1.2, -1.0, -1.2, -1.5, -1.55, -1.65, -1.55, -1.75, -1.85, -1.8, -1.6, -1.7, -1.9, -1.8, -1.75, -1.6, -1.7, -1.55, -1.7, -1.6, -1.85, -2.05, -2.2, -2.05, -1.9, -1.8, -1.7, -2.3, -1.9, -2.1, -2.2, -2.3, -2.2, -2.1, -2.3, -2.2, -2.4, -2.5, -2.35, -2.6, -2.45, -2.5, -2.45, -2.6, -2.8, -2.85, -2.8, -3.0, -2.7, -2.5, -2.4, -2.2, -2.3, -2.4, -2.35, -2.2, -2.35, -2.2, -2.15, -1.85, -1.45, -1.4, -1.3, -1.4, -1.2, -1.45, -1.1, -1.2, -1.3, -1.45, -1.55, -1.35, -1.2]
gray3_age = [74.4, 73.0, 71.1, 69.8, 68.0, 66.8, 65.6, 61.2, 60.0, 56.0, 52.0, 47.5, 47.0, 45.7, 45.0, 44.3, 44.0, 42.9, 41.0, 40.0, 38.3, 37.0, 36.2, 33.1, 31.0, 29.0, 26.9, 25.3, 25.3, 22.85, 21.75, 19.55, 19.4, 16.2, 15.5, 13.2, 12.2, 4.85]
gray3_top = [1.6, 1.45, 1.35, 1.45, 1.5, 1.5, 1.4, 1.3, 1.3, 1.4, 1.5, 1.9, 1.5, 2.0, 2.2, 1.85, 1.4, 1.9, 2.35, 1.9, 3.2, 1.9, 2.5, 3.2, 3.75, 3.35, 3.3, 4.55, 3.25, 4.55, 4.55, 2.5, 3.2, 2.6, 2.75, 2.9, 3.85, 1.6]
gray3_bot = [-0.85, -1.1, -0.9, -1.5, -1.55, -1.35, -1.75, -2.1, -1.55, -1.35, -1.9, -2.2, -2.3, -3.0, -2.6, -2.85, -2.7, -2.4, -2.4, -3.95, -2.45, -3.0, -3.0, -3.05, -2.4, -3.0, -2.85, -4.49, -2.6, -2.9, -2.9, -4.49, -3.35, -3.05, -3.35, -2.9, -2.9, -2.0]

x_ticks = list(range(5, 90, 5))
x_labels = [str(t) if t in (20, 40, 60, 80) else "" for t in x_ticks]


def draw_panel(top_px, bottom_px, ylim, yticks, ylabels, age, hi, lo, black, gray, up, dn, shift):
    ax = fig.add_axes([12 / 1031, 1 - bottom_px / 1055, 961 / 1031, (bottom_px - top_px) / 1055])
    ax.set_xlim(90.75, 0.1)
    ax.set_ylim(*ylim)
    ax.fill_between(age, lo, hi, color="black", lw=0.3, zorder=4)
    ax.vlines(gray[0], gray[2], gray[1], color="#777777", lw=1.0, zorder=3)
    ax.vlines(black[0], black[2], black[1], color="black", lw=0.9, zorder=5)
    # edge excursions start from the middle of the trace
    mid = [(a + b) / 2 for a, b in zip(hi, lo)]
    ax.vlines(up[0], np.interp(up[0], age[::-1], mid[::-1]), up[1], color="black", lw=1.2, zorder=5)
    ax.vlines(dn[0], np.interp(dn[0], age[::-1], mid[::-1]), dn[1], color="black", lw=1.2, zorder=5)
    ax.set_xticks(x_ticks)
    ax.set_xticklabels(x_labels, fontsize=20.5, color="#3a3a3a")
    ax.tick_params(axis="x", length=9.5, width=1.1, color="#444444", pad=6)
    ax.yaxis.tick_right()
    ax.set_yticks(yticks)
    ax.set_yticklabels(ylabels, fontsize=17.5, color="#484848")
    ax.tick_params(axis="y", direction="in", length=14, width=1.1, color="#444444", pad=10)
    offset = ScaledTranslation(0, shift / 100, fig.dpi_scale_trans)
    for lab in ax.get_yticklabels():
        lab.set_transform(lab.get_transform() + offset)
    for s in ax.spines.values():
        s.set_color("#555555")
        s.set_linewidth(1.3)
    ax.spines["top"].set_color("#333333")
    return ax


fig = plt.figure(figsize=(10.31, 10.55), dpi=100)

draw_panel(51, 259, (-46.84, -32.7), [-46, -44, -42, -40, -38, -36, -34],
           ["-46", "", "-42", "", "-38", "", "-34"], age1, hi1, lo1,
           (spike1_age, spike1_hi, spike1_lo), (gray1_age, gray1_hi, gray1_lo),
           (up1_age, up1_tip), (dn1_age, dn1_tip), 2)
draw_panel(425, 633, (-44.36, -34.05), [-44, -42, -40, -38, -36],
           ["-44", "", "-40", "", "-36"], age2, hi2, lo2,
           (spike2_age, spike2_hi, spike2_lo), (gray2_age, gray2_hi, gray2_lo),
           (up2_age, up2_tip), (dn2_age, dn2_tip), 3)
draw_panel(800, 1008, (-4.49, 4.55), [-4, -2, 0, 2, 4],
           ["-4", "", "0", "", "4"], age3, top3, bot3,
           ([], [], []), (gray3_age, gray3_top, gray3_bot),
           (up3_age, up3_top), (lo3_age, lo3_bot), 0)

fig.text(533 / 1031, 1 - 29 / 1055, "Unfiltered  δO$_{18}$", fontsize=20, color="#333333", ha="center", va="center")
fig.text(541.5 / 1031, 1 - 406 / 1055, "150 Year Low Pass Filter", fontsize=21, color="#333333", ha="center", va="center")
fig.text(534 / 1031, 1 - 775 / 1055, "150 Year High Pass Filter", fontsize=21, color="#333333", ha="center", va="center")

fig.savefig("out.png", dpi=100)
